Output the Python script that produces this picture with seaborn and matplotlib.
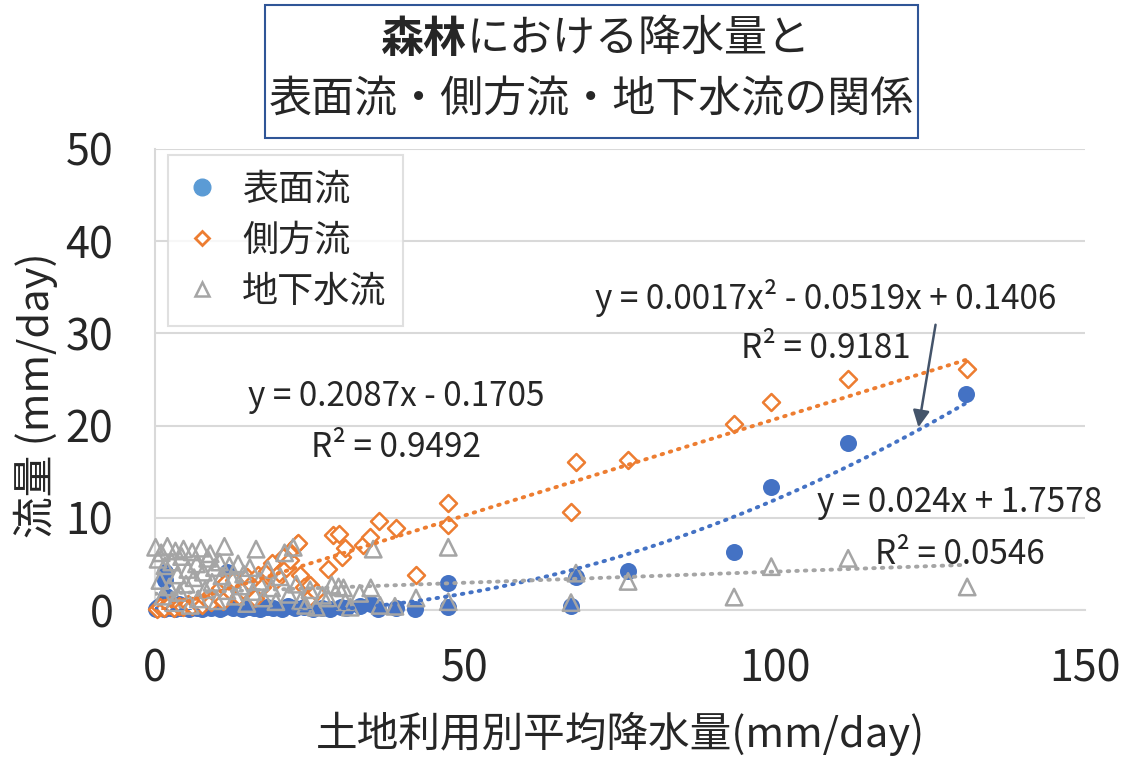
import numpy as np
import pandas as pd
import matplotlib
matplotlib.use('Agg')
import matplotlib.pyplot as plt
import seaborn as sns
from matplotlib.lines import Line2D
from matplotlib.patches import Rectangle

sns.set_style('white')
plt.rcParams['font.family'] = ['Noto Sans CJK JP', 'DejaVu Sans']
plt.rcParams['axes.unicode_minus'] = False

# 表面流 (blue)
surface_x = [0.2, 0.5, 0.8, 1.0, 1.6, 1.5, 1.8, 1.6, 2.0, 2.5, 3.0, 3.3, 3.8, 4.2, 4.8, 5.5, 6.0, 6.8, 7.5,
             8.2, 9.0, 9.8, 10.5, 11.2, 11.6, 12.5, 13.3, 14.0, 15.0, 16.0, 17.0, 18.0, 19.0, 20.5, 21.5,
             22.5, 24.0, 25.5, 27.0, 28.2, 30.0, 30.8, 33.0, 34.8, 36.0, 38.8, 42.0, 47.3, 47.3, 67.1,
             67.9, 76.3, 93.4, 99.3, 111.8, 130.8]
surface_y = [0.1, 0.3, 0.2, 0.5, 4.1, 0.1, 1.5, 3.2, 0.3, 0.2, 0.4, 0.1, 0.6, 0.2, 0.3, 0.1, 0.4, 0.2, 0.1,
             0.3, 0.2, 0.5, 0.1, 0.3, 4.1, 0.2, 0.4, 0.1, 0.3, 0.2, 0.1, 0.3, 0.2, 0.1, 0.4,
             0.2, 0.3, 0.1, 0.2, 0.1, 0.3, 0.2, 0.4, 0.7, 0.1, 0.2, 0.1, 0.3, 2.9, 0.4,
             3.6, 4.2, 6.3, 13.3, 18.1, 23.4]

# 側方流 (orange)
lateral_x = [0.3, 0.8, 1.5, 2.2, 3.0, 3.8, 4.5, 5.3, 6.0, 6.8, 7.5, 8.3, 9.0, 9.8, 10.5, 11.0, 11.5, 12.2,
             12.8, 13.5, 14.2, 14.8, 15.5, 16.2, 16.6, 17.3, 18.0, 18.9, 19.5, 20.0, 20.7, 21.2, 21.8,
             22.3, 22.9, 23.1, 23.4, 24.0, 25.0, 25.0, 26.0, 27.9, 28.7, 29.6, 30.1, 30.7, 33.6, 34.7,
             36.2, 38.9, 42.1, 47.3, 47.3, 67.1, 67.9, 76.3, 93.4, 99.4, 111.8, 131.0]
lateral_y = [0.1, 0.3, 0.2, 0.5, 0.2, 0.4, 0.3, 0.6, 0.4, 0.8, 0.5, 1.2, 0.9, 1.6, 2.4, 1.0, 3.0, 2.0,
             3.3, 1.5, 2.2, 3.6, 2.8, 1.3, 3.8, 2.5, 4.2, 5.1, 3.3, 4.0, 5.7, 4.6, 5.4,
             6.7, 7.2, 7.3, 3.8, 2.5, 2.7, 1.4, 2.0, 4.5, 8.1, 8.2, 5.8, 6.7, 7.0, 7.9,
             9.6, 8.9, 3.8, 9.2, 11.6, 10.6, 16.1, 16.3, 20.2, 22.6, 25.1, 26.1]

# 地下水流 (gray)
ground_x = [0.1, 0.5, 0.8, 1.0, 1.3, 1.6, 2.0, 2.3, 2.7, 3.0, 3.3, 3.6, 4.0, 4.3, 4.6, 5.0, 5.3, 5.7, 6.0,
            6.3, 6.7, 7.0, 7.4, 7.8, 8.1, 8.5, 8.9, 9.2, 9.6, 10.0, 10.4, 10.8, 11.2, 11.6, 12.0, 12.5,
            13.0, 13.4, 13.8, 14.3, 14.8, 15.3, 15.8, 16.3, 16.8, 17.5, 18.2, 18.8, 19.5, 20.2, 20.9,
            21.6, 22.3, 22.8, 23.5, 24.3, 25.0, 26.0, 27.0, 27.9, 28.5, 29.6, 30.4, 30.7, 31.5, 33.0,
            34.8, 35.2, 36.3, 38.7, 42.1, 47.3, 47.3, 67.1, 67.9, 76.3, 93.4, 99.4, 111.8, 131.0]
ground_y = [6.8, 5.5, 3.2, 6.2, 1.5, 4.8, 6.9, 2.5, 5.2, 0.8, 6.4, 3.8, 1.9, 5.8, 6.6, 2.8, 4.4, 0.5, 6.3,
            3.5, 5.0, 1.2, 6.7, 4.1, 2.2, 5.6, 6.1, 3.0, 4.6, 1.0, 5.2, 3.7, 6.9, 2.1, 4.8, 3.3,
            1.5, 5.0, 2.6, 3.9, 0.7, 4.6, 2.0, 6.6, 3.1, 1.3, 4.4, 2.4, 0.9, 3.6, 6.2,
            1.7, 6.8, 2.8, 1.0, 0.5, 2.2, 0.3, 1.6, 1.3, 2.7, 2.5, 2.4, 0.9, 0.3, 1.8,
            2.4, 6.6, 0.5, 0.4, 1.3, 6.8, 0.9, 0.8, 4.0, 3.1, 1.4, 4.7, 5.6, 2.5]

# trendline coefficients (from chart labels)
surface_coef = [0.0017, -0.0519, 0.1406]
lateral_coef = [0.2087, -0.1705]
ground_coef = [0.024, 1.7578]
trend_xmax = 131.0

series_names = ['表面流', '側方流', '地下水流']
BLUE, ORANGE, GRAY = '#4472C4', '#ED7D31', '#A5A5A5'

fig = plt.figure(figsize=(11.25, 7.58), dpi=100)
ax = fig.add_axes([155 / 1125, 1 - 610 / 758, 930 / 1125, 461 / 758])

sns.scatterplot(x=surface_x, y=surface_y, ax=ax, marker='o', s=150, color=BLUE,
                edgecolor=BLUE, linewidth=0, clip_on=False, zorder=3)
sns.scatterplot(x=lateral_x, y=lateral_y, ax=ax, marker='D', s=75, facecolors='white',
                edgecolors=ORANGE, linewidth=1.8, clip_on=False, zorder=4)
sns.scatterplot(x=ground_x, y=ground_y, ax=ax, marker='^', s=140, facecolors='none',
                edgecolors=GRAY, linewidth=1.8, clip_on=False, zorder=5)

xs = np.linspace(0, trend_xmax, 200)
for coef, col in [(surface_coef, BLUE), (lateral_coef, ORANGE), (ground_coef, GRAY)]:
    ax.plot(xs, np.polyval(coef, xs), color=col, lw=2.8, ls=(0, (0.4, 1.8)),
            dash_capstyle='round', zorder=6)

ax.set_xlim(0, 150)
ax.set_ylim(0, 50)
ax.set_xticks([0, 50, 100, 150])
ax.set_yticks([0, 10, 20, 30, 40, 50])
ax.grid(axis='y', color='#D9D9D9', lw=1.5)
ax.grid(axis='x', visible=False)
for side in ['top', 'right']:
    ax.spines[side].set_visible(False)
for side in ['left', 'bottom']:
    ax.spines[side].set_color('#D9D9D9')
    ax.spines[side].set_linewidth(1.5)
ax.tick_params(axis='y', labelsize=31, length=0, pad=30)
ax.tick_params(axis='x', labelsize=31, length=0, pad=27)
ax.set_xlabel('土地利用別平均降水量(mm/day)', fontsize=30, va='center')
ax.xaxis.set_label_coords(0.5, (610 - 734) / 461)
ax.set_ylabel('流量 (mm/day)', fontsize=30, va='center')
ax.yaxis.set_label_coords((36 - 155) / 930, (610 - 395) / 461)

# legend
handles = [
    Line2D([], [], marker='o', ls='', color='#5B9BD5', markersize=12),
    Line2D([], [], marker='D', ls='', markerfacecolor='white', markeredgecolor=ORANGE,
           markeredgewidth=2, markersize=7),
    Line2D([], [], marker='^', ls='', markerfacecolor='white', markeredgecolor=GRAY,
           markeredgewidth=1.8, markersize=10),
]
leg = ax.legend(handles, series_names, loc='upper left', bbox_to_anchor=(0.014, 0.987),
                fontsize=26, frameon=True, fancybox=False, edgecolor='#D9D9D9',
                handlelength=1.0, handletextpad=0.6, borderpad=0.45, labelspacing=0.42,
                borderaxespad=0)
leg.get_frame().set_linewidth(1.5)

# trendline labels
labels = [
    ('y = 0.0017x² - 0.0519x + 0.1406', 826, 298),
    ('R² = 0.9181', 826, 348),
    ('y = 0.2087x - 0.1705', 396, 396),
    ('R² = 0.9492', 396, 447),
    ('y = 0.024x + 1.7578', 960, 503),
    ('R² = 0.0546', 960, 554),
]
for txt, px, py in labels:
    fig.text(px / 1125, 1 - py / 758, txt, fontsize=24, ha='center', va='center')
ax.annotate('', xy=(918 / 1125, 1 - 430 / 758), xytext=(936 / 1125, 1 - 322 / 758),
            xycoords='figure fraction', textcoords='figure fraction',
            arrowprops=dict(arrowstyle='-|>', color='#44546A', lw=1.8, mutation_scale=25))

# title box
fig.patches.append(Rectangle((265 / 1125, 1 - 138 / 758), 653 / 1125, 133 / 758,
                             transform=fig.transFigure, fill=False, edgecolor='#2F5597', lw=1.5))
fig.text(467 / 1125, 1 - 39 / 758, '森林', fontsize=31, fontweight='bold', ha='right', va='center')
fig.text(467 / 1125, 1 - 39 / 758, 'における降水量と', fontsize=31, ha='left', va='center')
fig.text(591 / 1125, 1 - 100 / 758, '表面流・側方流・地下水流の関係', fontsize=31, ha='center', va='center')

fig.savefig('out.png', dpi=100)
